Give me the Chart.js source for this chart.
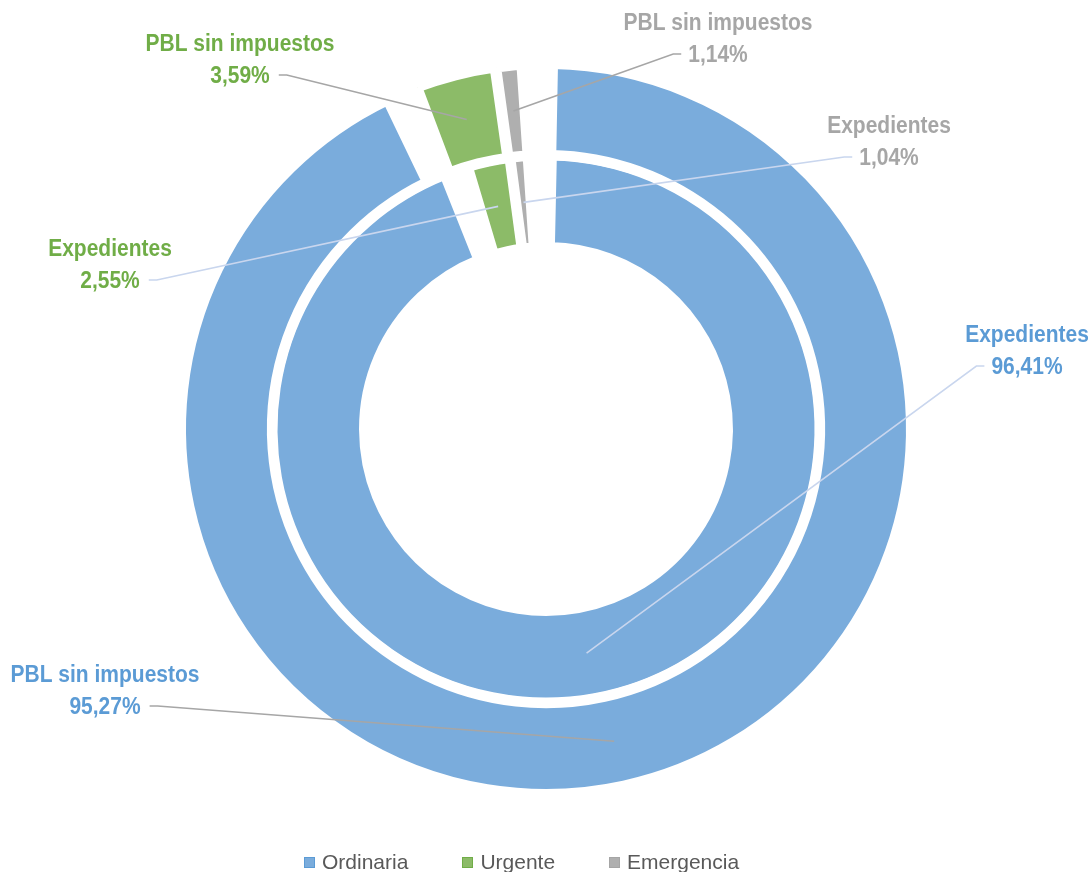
<!DOCTYPE html>
<html lang="es">
<head>
<meta charset="utf-8">
<title>PBL sin impuestos y Expedientes por tramitación</title>
<script src="https://cdn.jsdelivr.net/npm/chart.js@4.4.1/dist/chart.umd.min.js"></script>
<style>
  html, body { margin: 0; padding: 0; background: #fff; }
  #wrap { position: relative; width: 1091px; height: 872px; overflow: hidden; }
  #leyenda {
    position: absolute; left: 304px; top: 850px;
    display: flex; align-items: center;
    font: 21px "Liberation Sans", Arial, sans-serif; color: #595959;
  }
  #leyenda .item { display: flex; align-items: center; margin-right: 54px; }
  #leyenda .caja { width: 9px; height: 9px; border: 1px solid; margin-right: 7px; }
</style>
</head>
<body>
<div id="wrap">
  <canvas id="anillos" width="1091" height="872"></canvas>
  <div id="leyenda"></div>
</div>
<script>
// Tipos de tramitación y los dos anillos (exterior: PBL, interior: expedientes)
const categorias = ['Ordinaria', 'Urgente', 'Emergencia'];
const series = ['PBL sin impuestos', 'Expedientes'];
const pblSinImpuestos = [95.27, 3.59, 1.14];
const expedientes = [96.41, 2.55, 1.04];

const relleno = ['#7AACDC', '#8CBB68', '#AFAFAF'];
const bordeCaja = ['#5B9BD5', '#70AD47', '#A5A5A5'];
const colorTexto = ['#5B9BD5', '#70AD47', '#A6A6A6'];

// bloque de texto de cada etiqueta: centro x, y de la primera línea, lado por el que sale la guía
const posEtiquetas = [
  { anillo: 0, i: 0, x: 105, y: 676, lado: 'der' },
  { anillo: 1, i: 0, x: 1027, y: 336, lado: 'izq' },
  { anillo: 0, i: 1, x: 240, y: 45, lado: 'der' },
  { anillo: 1, i: 1, x: 110, y: 250, lado: 'der' },
  { anillo: 0, i: 2, x: 718, y: 24, lado: 'izq' },
  { anillo: 1, i: 2, x: 889, y: 127, lado: 'izq' }
];
const interlinea = 32;

function fmtPct(v) {
  return v.toFixed(2).replace('.', ',') + '%';
}

// texto algo más alto que ancho, como en las etiquetas originales
function textoAlto(ctx, txt, x, y) {
  ctx.save();
  ctx.translate(x, y);
  ctx.scale(1, 1.1);
  ctx.fillText(txt, 0, 0);
  ctx.restore();
}

// etiquetas con línea guía hasta el centro de cada porción
const etiquetas = {
  id: 'etiquetas',
  afterDatasetsDraw(chart) {
    const ctx = chart.ctx;
    ctx.save();
    ctx.font = 'bold 21px "Liberation Sans", Arial, sans-serif';
    ctx.textAlign = 'center';
    ctx.textBaseline = 'middle';
    posEtiquetas.forEach(p => {
      const ds = chart.data.datasets[p.anillo];
      const arco = chart.getDatasetMeta(p.anillo).data[p.i];
      const ancla = arco.getCenterPoint();
      const valor = fmtPct(ds.data[p.i]);
      const y2 = p.y + interlinea;
      const w2 = ctx.measureText(valor).width;
      const sx = p.lado === 'der' ? p.x + w2 / 2 + 9 : p.x - w2 / 2 - 7;
      const ex = sx + (p.lado === 'der' ? 8 : -8);

      ctx.strokeStyle = p.anillo === 0 ? '#A6A6A6' : '#C9D6EE';
      ctx.lineWidth = 1.6;
      ctx.beginPath();
      ctx.moveTo(sx, y2 - 2);
      ctx.lineTo(ex, y2 - 2);
      ctx.lineTo(ancla.x, ancla.y);
      ctx.stroke();

      ctx.fillStyle = colorTexto[p.i];
      textoAlto(ctx, ds.label, p.x, p.y);
      textoAlto(ctx, valor, p.x, y2);
    });
    ctx.restore();
  }
};

const chart = new Chart(document.getElementById('anillos'), {
  type: 'doughnut',
  data: {
    labels: categorias,
    datasets: [
      {
        label: series[0],
        data: pblSinImpuestos,
        backgroundColor: relleno,
        spacing: 18
      },
      {
        label: series[1],
        data: expedientes,
        backgroundColor: relleno,
        spacing: 13
      }
    ]
  },
  options: {
    responsive: false,
    animation: false,
    events: [],
    rotation: -3.8,
    cutout: '48.95%',
    layout: { padding: { left: 176, right: 175, top: 59, bottom: 73 } },
    elements: {
      arc: {
        borderColor: '#ffffff',
        borderWidth: 10,
        hoverBorderWidth: 10,
        hoverOffset: 0
      }
    },
    plugins: {
      legend: { display: false },
      tooltip: { enabled: false }
    }
  },
  plugins: [etiquetas]
});

// leyenda en HTML a partir de las categorías
const leyenda = document.getElementById('leyenda');
categorias.forEach((c, i) => {
  const item = document.createElement('div');
  item.className = 'item';
  const caja = document.createElement('span');
  caja.className = 'caja';
  caja.style.background = relleno[i];
  caja.style.borderColor = bordeCaja[i];
  const txt = document.createElement('span');
  txt.textContent = c;
  item.appendChild(caja);
  item.appendChild(txt);
  leyenda.appendChild(item);
});
</script>
</body>
</html>
